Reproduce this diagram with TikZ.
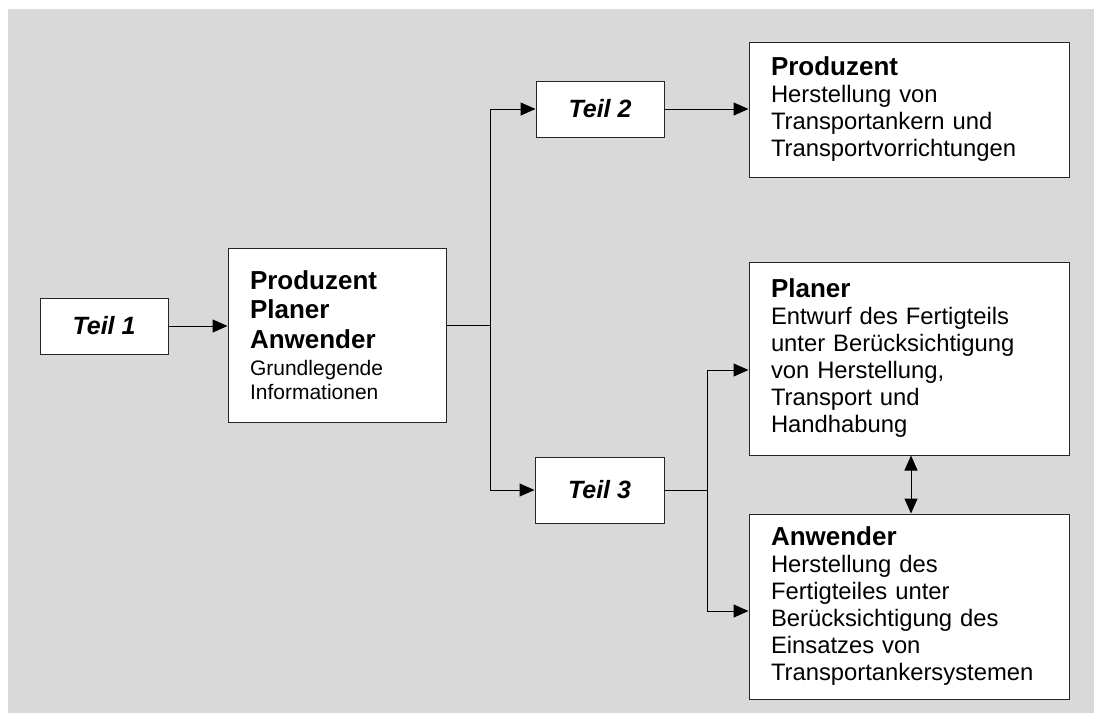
\documentclass[tikz,border=0pt]{standalone}
\usepackage{fontspec}
\setmainfont{Liberation Sans}
\usetikzlibrary{arrows.meta,calc}
\definecolor{bggrey}{HTML}{D9D9D9}

\begin{document}
\begin{tikzpicture}[x=1pt,y=-1pt,
            >={Triangle[length=15pt,width=13pt]},
            line width=1pt,
            teil/.style={draw=black!85,fill=white,inner sep=0pt,
                font=\fontsize{25}{30}\selectfont\bfseries\itshape},
            box/.style={draw=black!85,fill=white,align=left,
                inner xsep=22pt,inner ysep=0pt,
                font=\fontsize{23.8}{27}\selectfont},
        ]
        \useasboundingbox (0,0) rectangle (1094,713);
        \fill[bggrey] (8,9) rectangle (1094,713);

        \node[teil,minimum width=128pt,minimum height=56pt] (teil1) at (104,326) {Teil 1};
        \node[box,text width=174pt,minimum height=174pt,font=\fontsize{21}{24}\selectfont] (basis) at (337,335)
            {{\fontsize{26}{29.5}\selectfont\bfseries Produzent\\Planer\\Anwender\par}
             \vspace{3pt}Grundlegende\\Informationen};
        \node[teil,minimum width=128pt,minimum height=56pt] (teil2) at (600,109) {Teil 2};
        \node[teil,minimum width=129pt,minimum height=66pt] (teil3) at (599.5,490) {Teil 3};

        \node[box,text width=276pt,minimum height=135pt] (produzent) at (909,109.5)
            {{\fontsize{26}{27}\selectfont\bfseries Produzent\par}
             Herstellung von\\Transportankern und\\Transportvorrichtungen};
        \node[box,text width=276pt,minimum height=193pt] (planer) at (909,358.5)
            {{\fontsize{26}{27}\selectfont\bfseries Planer\par}
             Entwurf des Fertigteils\\unter Berücksichtigung\\von Herstellung,\\Transport und\\Handhabung};
        \node[box,text width=276pt,minimum height=185pt] (anwender) at (909,606.5)
            {{\fontsize{26}{27}\selectfont\bfseries Anwender\par}
             Herstellung des\\Fertigteiles unter\\Berücksichtigung des\\Einsatzes von\\Transportankersystemen};

        % Verzweigungen
        \coordinate (split) at (490,325);
        \coordinate (split2) at (707,490);

        \draw[->] (teil1.east) -- (teil1.east -| basis.west);
        \draw (basis.east |- split) -- (split);
        \draw[->] (split) |- (teil2.west);
        \draw[->] (split) |- (teil3.west);
        \draw[->] (teil2.east) -- (teil2.east -| produzent.west);
        \draw (teil3.east) -- (split2);
        \draw[->] (split2) |- ($(planer.west)+(0,11.5)$);
        \draw[->] (split2) |- ($(anwender.west)+(0,4.5)$);
        \draw[<->] ($(planer.south)+(2,0)$) -- ($(anwender.north)+(2,0)$);
    \end{tikzpicture}
\end{document}
